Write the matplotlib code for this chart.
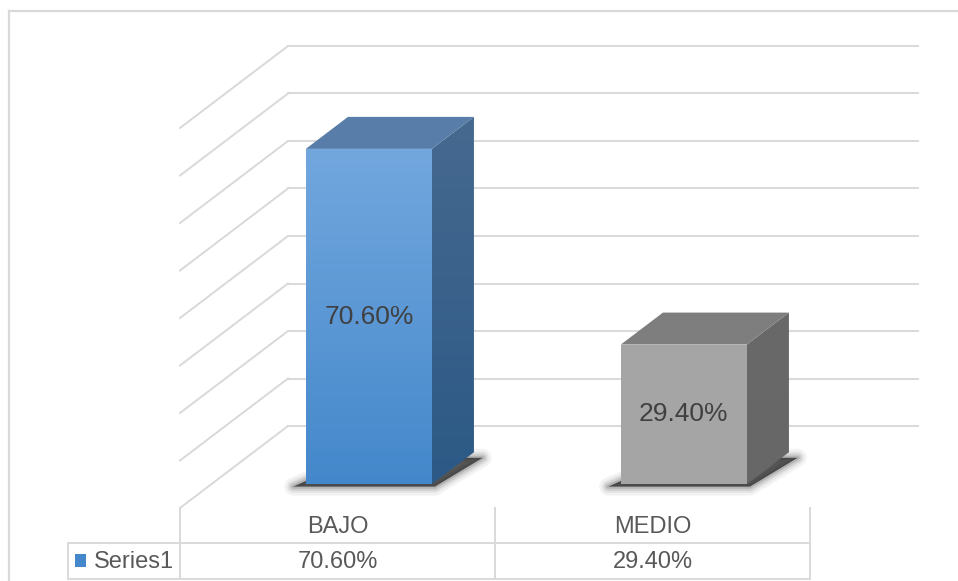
import numpy as np
import matplotlib.pyplot as plt
from matplotlib.patches import Polygon, Rectangle
from matplotlib.lines import Line2D
from matplotlib.colors import LinearSegmentedColormap

plt.rcParams['font.family'] = ['Liberation Sans', 'DejaVu Sans']

categories = ['BAJO', 'MEDIO']
values = [70.6, 29.4]
value_labels = ['70.60%', '29.40%']
series_name = 'Series1'
grid_ticks = [0, 10, 20, 30, 40, 50, 60, 70, 80]

# face colours per bar: front (top, bottom), side (top, bottom), top face
front_cols = [('#72a7de', '#4488cb'), ('#a6a6a6', '#a5a5a5')]
side_cols = [('#46698f', '#2c5986'), ('#696969', '#676767')]
top_cols = ['#577da8', '#7e7e7e']

GRID = '#d9d9d9'
W, H = 958, 581
fig = plt.figure(figsize=(W / 100, H / 100), dpi=100)
ax = fig.add_axes([0, 0, 1, 1])
# front plane: categories 0..2 over px 180..810, 0% at 73px from bottom, 4.75 px per %
ax.set_xlim(-180 / 315, (W - 180) / 315)
ax.set_ylim(-73 / 4.75, (H - 73) / 4.75)
ax.axis('off')

# oblique depth, d=0 back wall, d=1 front edge
DX = 108 / 315
DY = 82 / 4.75


def proj(x, y, d):
    return x + DX * (1 - d), y + DY * (1 - d)


def grad_poly(pts, c_top, c_bot, z):
    pts = np.array(pts)
    patch = Polygon(pts, closed=True, fc='none', ec='none', zorder=z)
    ax.add_patch(patch)
    cmap = LinearSegmentedColormap.from_list('g', [c_bot, c_top])
    grad = np.linspace(1, 0, 100).reshape(-1, 1)
    im = ax.imshow(grad, cmap=cmap, aspect='auto', zorder=z, interpolation='bilinear',
                   extent=[pts[:, 0].min(), pts[:, 0].max(), pts[:, 1].min(), pts[:, 1].max()])
    im.set_clip_path(patch)


# back wall and side wall gridlines
n = len(categories)
for t in grid_ticks:
    a = proj(0, t, 0)
    b = proj(n, t, 0)
    c = proj(0, t, 1)
    ax.plot([a[0], b[0]], [a[1], b[1]], color=GRID, lw=1.4, zorder=1)
    ax.plot([a[0], c[0]], [a[1], c[1]], color=GRID, lw=1.4, zorder=1)

# bars
half = 0.2
d0, d1 = 0.32, 0.71
for i, v in enumerate(values):
    x0, x1 = i + 0.5 - half, i + 0.5 + half
    # blurred shadow on the floor
    sh = [proj(x0 - 0.04, -0.5, d1), proj(x1 + 0.01, -0.5, d1),
          proj(x1 + 0.045, -0.3, d0 + 0.05), proj(x0 + 0.05, -0.3, d0 + 0.05)]
    for lw, al in [(13, 0.05), (9, 0.07), (6, 0.1), (3, 0.14)]:
        ax.add_patch(Polygon(sh, closed=True, fc='none', ec=(0.1, 0.1, 0.1, al),
                             lw=lw, joinstyle='round', zorder=2))
    ax.add_patch(Polygon(sh, closed=True, fc=(0.15, 0.15, 0.15, 0.75), ec='none', zorder=2))
    front = [proj(x0, 0, d1), proj(x1, 0, d1), proj(x1, v, d1), proj(x0, v, d1)]
    side = [proj(x1, 0, d1), proj(x1, 0, d0), proj(x1, v, d0), proj(x1, v, d1)]
    top = [proj(x0, v, d1), proj(x1, v, d1), proj(x1, v, d0), proj(x0, v, d0)]
    grad_poly(front, front_cols[i][0], front_cols[i][1], 3)
    grad_poly(side, side_cols[i][0], side_cols[i][1], 3)
    ax.add_patch(Polygon(top, closed=True, fc=top_cols[i], ec='none', zorder=3))
    lx, ly = proj(i + 0.5, v / 2, d1)
    ax.text(lx, ly, value_labels[i], ha='center', va='center', fontsize=19,
            color='#404040', zorder=5)

# data table below the plot
row_top, row_mid, row_bot = 0, -7.37, -14.95
cell_left = -0.356
for xb in range(n + 1):
    ax.plot([xb, xb], [row_top, row_bot], color=GRID, lw=1.4, zorder=1)
ax.plot([cell_left, cell_left], [row_mid, row_bot], color=GRID, lw=1.4, zorder=1)
ax.plot([cell_left, n], [row_mid, row_mid], color=GRID, lw=1.4, zorder=1)
ax.plot([cell_left, n], [row_bot, row_bot], color=GRID, lw=1.4, zorder=1)
for i, cat in enumerate(categories):
    ax.text(i + 0.5, -4.0, cat, ha='center', va='center', fontsize=17, color='#595959')
    ax.text(i + 0.5, -11.4, value_labels[i], ha='center', va='center', fontsize=17,
            color='#595959')
ax.add_patch(Rectangle((-0.333, -12.4), 0.036, 2.7, fc=front_cols[0][1], ec='none'))
ax.text(-0.272, -11.4, series_name, ha='left', va='center', fontsize=17, color='#595959')

# chart area border
fig.add_artist(Line2D([9 / W, 9 / W], [0, 1 - 11 / H], color=GRID, lw=1.6))
fig.add_artist(Line2D([9 / W, 1], [1 - 11 / H, 1 - 11 / H], color=GRID, lw=1.6))

fig.savefig('out.png', dpi=100)
